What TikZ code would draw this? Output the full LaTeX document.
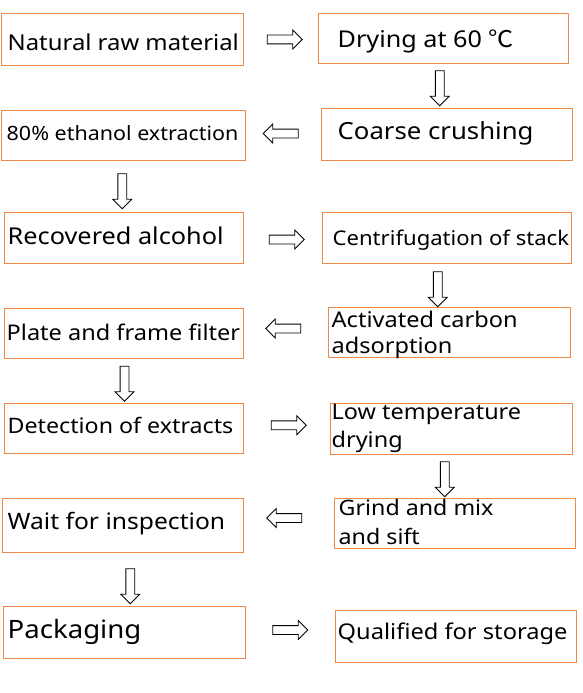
\documentclass[tikz,border=0pt]{standalone}
\usepackage{fontspec}
\usepackage{graphicx}
\setmainfont{Noto Sans}
\newfontfamily\cjkfont{Noto Sans CJK SC}
\usetikzlibrary{shapes.arrows,calc}
\definecolor{boxorange}{RGB}{237,138,72}
\newcommand\wide[1]{\scalebox{1.09}[1]{#1}}
\newcommand\twoline[3]{\scalebox{1.09}[1]{\vtop{\baselineskip=#3\lineskiplimit=-20pt\hbox{#1}\hbox{#2}}}}
\begin{document}
\begin{tikzpicture}[x=1pt,y=-1pt,
  box/.style={draw=boxorange, line width=1pt, inner sep=0pt, rectangle},
  txt/.style={inner sep=0pt, anchor=base west, text=black},
  flowarrow/.style={single arrow, draw=black, line width=0.8pt, inner xsep=0pt, inner ysep=4pt,
    minimum height=35pt, single arrow head extend=5pt, fill=white}]
\useasboundingbox[fill=white] (0,0) rectangle (583,693);
% boxes
\node[box, minimum width=242pt, minimum height=52pt] (A) at (122,40) {};
\node[box, minimum width=250pt, minimum height=50pt] (B) at (443,39) {};
\node[box, minimum width=244pt, minimum height=50pt] (C) at (123,135) {};
\node[box, minimum width=251pt, minimum height=52pt] (D) at (446.5,134) {};
\node[box, minimum width=239pt, minimum height=51pt] (E) at (123.5,237.5) {};
\node[box, minimum width=249pt, minimum height=51pt] (F) at (446.5,237.5) {};
\node[box, minimum width=239pt, minimum height=50pt] (G) at (123.5,333) {};
\node[box, minimum width=242pt, minimum height=50pt] (H) at (449,332) {};
\node[box, minimum width=239pt, minimum height=50pt] (I) at (123.5,428) {};
\node[box, minimum width=242pt, minimum height=51pt] (J) at (451,428.5) {};
\node[box, minimum width=241pt, minimum height=54pt] (K) at (122.5,525) {};
\node[box, minimum width=241pt, minimum height=50pt] (L) at (454.5,523) {};
\node[box, minimum width=242pt, minimum height=52pt] (M) at (124,632) {};
\node[box, minimum width=241pt, minimum height=52pt] (N) at (455.5,636) {};
% texts
\node[txt, font=\fontsize{21.9}{26}\selectfont] (tA) at ($(A.north west)+(7,37)$) {\wide{Natural raw material}};
\node[txt, font=\fontsize{23.1}{28}\selectfont] (tB) at ($(B.north west)+(20,34)$) {\wide{Drying at 60 {\cjkfont ℃}}};
\node[txt, font=\fontsize{19.7}{24}\selectfont] (tC) at ($(C.north west)+(6,31)$) {\wide{80\% ethanol extraction}};
\node[txt, font=\fontsize{23.6}{28}\selectfont] (tD) at ($(D.north west)+(17,32)$) {\wide{Coarse crushing}};
\node[txt, font=\fontsize{23.2}{28}\selectfont] (tE) at ($(E.north west)+(4,33)$) {\wide{Recovered alcohol}};
\node[txt, font=\fontsize{20.25}{24}\selectfont] (tF) at ($(F.north west)+(11,33.5)$) {\wide{Centrifugation of stack}};
\node[txt, font=\fontsize{21.6}{26}\selectfont] (tG) at ($(G.north west)+(3,33)$) {\wide{Plate and frame filter}};
\node[txt, font=\fontsize{21.6}{26}\selectfont] (tH) at ($(H.north west)+(4,21)$) {\twoline{Activated carbon}{adsorption}{26pt}};
\node[txt, font=\fontsize{21.3}{26}\selectfont] (tI) at ($(I.north west)+(4,30.5)$) {\wide{Detection of extracts}};
\node[txt, font=\fontsize{21.5}{26}\selectfont] (tJ) at ($(J.north west)+(2,16.5)$) {\twoline{Low temperature}{drying}{28pt}};
\node[txt, font=\fontsize{22.6}{26}\selectfont] (tK) at ($(K.north west)+(6,32)$) {\wide{Wait for inspection}};
\node[txt, font=\fontsize{21.3}{26}\selectfont] (tL) at ($(L.north west)+(5,17.5)$) {\twoline{Grind and mix}{and sift}{29pt}};
\node[txt, font=\fontsize{25.3}{28}\selectfont] (tM) at ($(M.north west)+(5,33)$) {\wide{Packaging}};
\node[txt, font=\fontsize{21.7}{26}\selectfont] (tN) at ($(N.north west)+(3,30)$) {\wide{Qualified for storage}};
% arrows
\node[flowarrow] (a1) at ($(A.east)!0.5!(B.west)+(2,0)$) {};
\node[flowarrow, rotate=-90] (a2) at ($(B.south)!0.5!(D.north)+(-5,0)$) {};
\node[flowarrow, rotate=180] (a3) at ($(D.west)!0.5!(C.east)+(0,-1)$) {};
\node[flowarrow, rotate=-90] (a4) at ($(C.south)!0.5!(E.north)+(-1,3)$) {};
\node[flowarrow] (a5) at ($(E.east)!0.5!(F.west)+(2,2)$) {};
\node[flowarrow, rotate=-90] (a6) at ($(F.south)!0.5!(H.north)+(-10,2)$) {};
\node[flowarrow, rotate=180] (a7) at ($(H.west)!0.5!(G.east)+(0,-4)$) {};
\node[flowarrow, rotate=-90] (a8) at ($(G.south)!0.5!(I.north)+(1,1)$) {};
\node[flowarrow] (a9) at ($(I.east)!0.5!(J.west)+(0,-3)$) {};
\node[flowarrow, rotate=-90] (a10) at ($(J.south)!0.5!(L.north)+(-8,1)$) {};
\node[flowarrow, rotate=180] (a11) at ($(L.west)!0.5!(K.east)+(-2,-6)$) {};
\node[flowarrow, rotate=-90] (a12) at ($(K.south)!0.5!(M.north)+(7,5)$) {};
\node[flowarrow] (a13) at ($(M.east)!0.5!(N.west)+(-2,-4)$) {};
\end{tikzpicture}
\end{document}
